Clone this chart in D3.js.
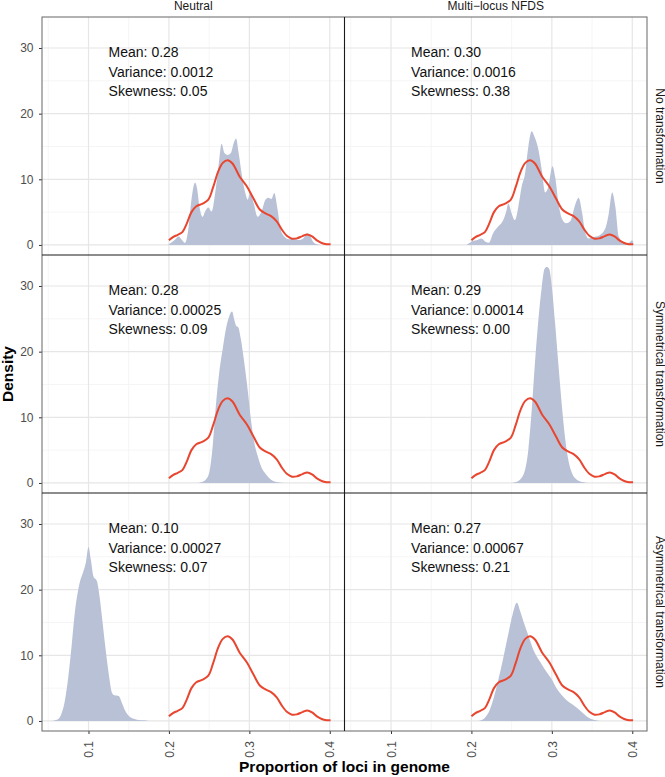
<!DOCTYPE html>
<html><head><meta charset="utf-8">
<script src="https://cdn.jsdelivr.net/npm/d3@7"></script>
<style>body{margin:0;background:#fff;} svg{display:block;font-family:"Liberation Sans",Arial,sans-serif;}</style>
</head><body><svg id="c" width="665" height="777"></svg>
<script>
// ---------- data ----------
const colLabels = ["Neutral", "Multi\u2212locus NFDS"];
const rowLabels = ["No transformation", "Symmetrical transformation", "Asymmetrical transformation"];
const xTicks = [0.1, 0.2, 0.3, 0.4];
const xMinor = [0.05, 0.15, 0.25, 0.35];
const yTicks = [0, 10, 20, 30];
const yMinor = [5, 15, 25];

// statistics text, row-major [row][col]
const meanText = [["0.28", "0.30"], ["0.28", "0.29"], ["0.10", "0.27"]];
const varText = [["0.0012", "0.0016"], ["0.00025", "0.00014"], ["0.00027", "0.00067"]];
const skewText = [["0.05", "0.38"], ["0.09", "0.00"], ["0.07", "0.21"]];

// observed density (red line), same in every panel
const obsX = [0.200,0.205,0.211,0.217,0.222,0.228,0.234,0.242,0.249,0.255,0.261,0.267,0.273,0.279,0.288,0.297,0.305,0.313,0.320,0.327,0.334,0.340,0.347,0.353,0.359,0.366,0.372,0.378,0.384,0.390,0.396,0.401];
const obsY = [0.7,1.2,1.55,2.0,3.2,5.0,5.9,6.3,6.9,8.8,11.1,12.5,12.9,12.4,10.4,8.9,7.1,5.4,4.8,4.4,3.6,2.4,1.35,0.95,1.0,1.35,1.6,1.3,0.7,0.3,0.12,0.1];

// simulated densities (filled areas)
const simNeutralNone = [[0.199,0],[0.2035,0.4],[0.2075,0.8],[0.212,1.3],[0.216,0.8],[0.22,0.3],[0.224,2.3],[0.228,6.9],[0.2325,9.5],[0.235,8.6],[0.238,5.8],[0.242,4.3],[0.245,5.1],[0.249,5.7],[0.253,5.1],[0.2575,7.9],[0.262,12.4],[0.2655,15.4],[0.269,14.0],[0.273,13.7],[0.277,14.0],[0.2805,15.5],[0.2835,16.2],[0.2867,14.0],[0.291,10.4],[0.295,7.9],[0.298,6.9],[0.3013,8.1],[0.3055,6.3],[0.3104,4.3],[0.3158,5.3],[0.32,6.9],[0.324,7.2],[0.3275,7.0],[0.331,7.9],[0.3346,5.8],[0.339,2.3],[0.344,1.2],[0.349,0.86],[0.3554,1.0],[0.3617,0.76],[0.367,1.0],[0.372,1.8],[0.376,1.2],[0.380,0.36],[0.384,0.1],[0.388,0]];
const simNfdsNone = [[0.194,0],[0.2,0.5],[0.206,0.7],[0.2125,1.0],[0.2175,0.5],[0.2217,0.35],[0.227,1.8],[0.2333,2.8],[0.2396,3.8],[0.2437,5.3],[0.2458,6.3],[0.25,4.8],[0.254,3.8],[0.2583,5.8],[0.2625,8.9],[0.2667,10.9],[0.2708,15.0],[0.275,17.3],[0.2783,16.5],[0.2833,14.5],[0.2875,11.4],[0.2917,8.0],[0.2958,8.9],[0.3008,12.0],[0.3042,10.3],[0.3083,6.3],[0.3125,4.0],[0.3179,3.3],[0.3229,3.6],[0.3292,6.2],[0.3333,7.2],[0.3375,5.0],[0.3417,1.8],[0.3458,1.0],[0.352,1.2],[0.358,1.4],[0.3667,2.6],[0.3708,4.8],[0.375,8.0],[0.379,5.8],[0.3833,1.27],[0.3896,0.3],[0.396,0.35],[0.4,0.7],[0.402,0]];
const simNeutralSym = [[0.236,0],[0.2396,0.1],[0.2458,0.5],[0.25,1.5],[0.254,5.1],[0.2583,11.7],[0.2625,16.8],[0.2667,20.3],[0.2708,23.4],[0.275,25.4],[0.2785,26.1],[0.2812,24.9],[0.2833,24.0],[0.2862,23.7],[0.2896,21.8],[0.2937,18.3],[0.2979,14.2],[0.302,9.6],[0.3062,6.1],[0.3104,4.1],[0.3146,2.5],[0.3208,1.3],[0.327,0.5],[0.3354,0.1],[0.344,0]];
const simNfdsSym = [[0.25,0],[0.254,0.1],[0.2604,0.5],[0.2667,2.0],[0.2708,5.1],[0.275,11.2],[0.279,18.3],[0.2833,24.9],[0.2875,29.9],[0.2908,32.6],[0.2937,32.9],[0.2967,32.6],[0.3,29.9],[0.304,24.4],[0.3083,17.8],[0.3125,11.7],[0.3167,6.6],[0.3208,3.3],[0.325,1.5],[0.331,0.5],[0.3396,0.1],[0.345,0]];
const simNeutralAsym = [[0.052,0],[0.0562,0.05],[0.0625,0.3],[0.0667,1.2],[0.0708,3.2],[0.075,6.8],[0.079,11.4],[0.083,16.5],[0.0865,19.5],[0.0896,21.3],[0.0937,22.8],[0.097,24.3],[0.1,26.5],[0.1029,24.6],[0.1062,22.0],[0.1104,21.3],[0.1137,19.0],[0.1167,15.9],[0.1208,11.4],[0.125,7.3],[0.1292,4.3],[0.1321,3.9],[0.1375,3.8],[0.1417,2.7],[0.1458,1.5],[0.1521,0.56],[0.1604,0.2],[0.1687,0.1],[0.175,0]];
const simNfdsAsym = [[0.206,0],[0.2104,0.05],[0.2167,0.5],[0.2229,1.7],[0.2279,3.6],[0.2333,6.2],[0.2396,9.6],[0.2458,13.2],[0.2512,16.2],[0.2565,18.0],[0.2604,16.8],[0.2646,15.2],[0.2708,13.0],[0.2771,10.8],[0.2854,9.0],[0.2937,7.4],[0.3,6.3],[0.3062,4.9],[0.3125,3.9],[0.3187,3.1],[0.327,2.4],[0.3333,1.8],[0.3396,1.1],[0.3458,0.5],[0.352,0.2],[0.36,0]];
const simData = [[simNeutralNone, simNfdsNone], [simNeutralSym, simNfdsSym], [simNeutralAsym, simNfdsAsym]];

// ---------- layout ----------
const svg = d3.select("#c");
const padL = 42, padT = 17, pw = 302.5, ph = 238;
const xs = d3.scaleLinear().domain([0.0422, 0.4183]).range([0, pw]);
const ys = d3.scaleLinear().domain([-1.53, 34.72]).range([ph, 0]);
const fillCol = "#b9c1d6", lineCol = "#e8462f";

svg.append("defs").append("clipPath").attr("id", "pclip")
  .append("rect").attr("width", pw).attr("height", ph);

const obs = obsX.map((x, i) => [x, obsY[i]]);
const area = d3.area().x(d => xs(d[0])).y0(ys(0)).y1(d => ys(d[1])).curve(d3.curveMonotoneX);
const line = d3.line().x(d => xs(d[0])).y(d => ys(d[1])).curve(d3.curveCatmullRom.alpha(0.5));

for (let r = 0; r < 3; r++) {
  for (let c = 0; c < 2; c++) {
    const g = svg.append("g").attr("transform", `translate(${padL + c * pw},${padT + r * ph})`);
    const grid = g.append("g");
    grid.selectAll(".xm").data(xMinor).join("line")
      .attr("x1", d => xs(d)).attr("x2", d => xs(d)).attr("y1", 0).attr("y2", ph)
      .attr("stroke", "#f0f0f0").attr("stroke-width", 0.7);
    grid.selectAll(".ym").data(yMinor).join("line")
      .attr("y1", d => ys(d)).attr("y2", d => ys(d)).attr("x1", 0).attr("x2", pw)
      .attr("stroke", "#f0f0f0").attr("stroke-width", 0.7);
    grid.selectAll(".xM").data(xTicks).join("line")
      .attr("x1", d => xs(d)).attr("x2", d => xs(d)).attr("y1", 0).attr("y2", ph)
      .attr("stroke", "#e6e6e6").attr("stroke-width", 1.2);
    grid.selectAll(".yM").data(yTicks).join("line")
      .attr("y1", d => ys(d)).attr("y2", d => ys(d)).attr("x1", 0).attr("x2", pw)
      .attr("stroke", "#e6e6e6").attr("stroke-width", 1.2);

    const inner = g.append("g").attr("clip-path", "url(#pclip)");
    inner.append("path").datum(simData[r][c]).attr("d", area).attr("fill", fillCol);
    inner.append("path").datum(obs).attr("d", line).attr("fill", "none")
      .attr("stroke", lineCol).attr("stroke-width", 2);

    const tx = xs(0.125), ty = ys(30) + 9;
    const ann = g.append("text").attr("font-size", 14).attr("fill", "#111");
    [`Mean: ${meanText[r][c]}`, `Variance: ${varText[r][c]}`, `Skewness: ${skewText[r][c]}`]
      .forEach((t, i) => ann.append("tspan").attr("x", tx).attr("y", ty + i * 19.6).text(t));

    if (c === 0) {
      const ya = g.append("g").call(d3.axisLeft(ys).tickValues(yTicks).tickSize(3).tickPadding(5.5));
      ya.select(".domain").remove();
      ya.selectAll("line").attr("stroke", "#333");
      ya.selectAll("text").attr("font-size", 12).attr("fill", "#4d4d4d").attr("font-family", "Liberation Sans, Arial, sans-serif");
    }
    if (r === 2) {
      const xa = g.append("g").attr("transform", `translate(0,${ph})`)
        .call(d3.axisBottom(xs).tickValues(xTicks).tickSize(3).tickFormat(d3.format(".1f")));
      xa.select(".domain").remove();
      xa.selectAll("line").attr("stroke", "#333");
      xa.selectAll("text").attr("font-size", 12).attr("fill", "#4d4d4d")
        .attr("font-family", "Liberation Sans, Arial, sans-serif")
        .attr("transform", "rotate(-90)").attr("text-anchor", "end")
        .attr("x", -10).attr("y", 0).attr("dy", "0.35em");
    }
  }
}

svg.append("rect").attr("x", padL).attr("y", padT).attr("width", 2 * pw).attr("height", 3 * ph)
  .attr("fill", "none").attr("stroke", "#666").attr("stroke-width", 1);
svg.append("line").attr("x1", padL + pw).attr("x2", padL + pw).attr("y1", padT).attr("y2", padT + 3 * ph)
  .attr("stroke", "#1a1a1a").attr("stroke-width", 1.1);
[1, 2].forEach(k => svg.append("line").attr("x1", padL).attr("x2", padL + 2 * pw)
  .attr("y1", padT + k * ph).attr("y2", padT + k * ph).attr("stroke", "#1a1a1a").attr("stroke-width", 1.1));

colLabels.forEach((t, c) => svg.append("text").attr("x", padL + c * pw + pw / 2).attr("y", 10)
  .attr("text-anchor", "middle").attr("font-size", 12).attr("fill", "#1a1a1a").text(t));
rowLabels.forEach((t, r) => svg.append("text")
  .attr("transform", `translate(655.5,${padT + r * ph + ph / 2}) rotate(90)`)
  .attr("text-anchor", "middle").attr("font-size", 12).attr("fill", "#1a1a1a").text(t));

svg.append("text").attr("x", padL + pw).attr("y", 772).attr("text-anchor", "middle")
  .attr("font-size", 15.5).attr("font-weight", "bold").attr("fill", "#000").text("Proportion of loci in genome");
svg.append("text").attr("transform", `translate(13,${padT + 1.5 * ph}) rotate(-90)`).attr("text-anchor", "middle")
  .attr("font-size", 15.5).attr("font-weight", "bold").attr("fill", "#000").text("Density");
</script></body></html>
